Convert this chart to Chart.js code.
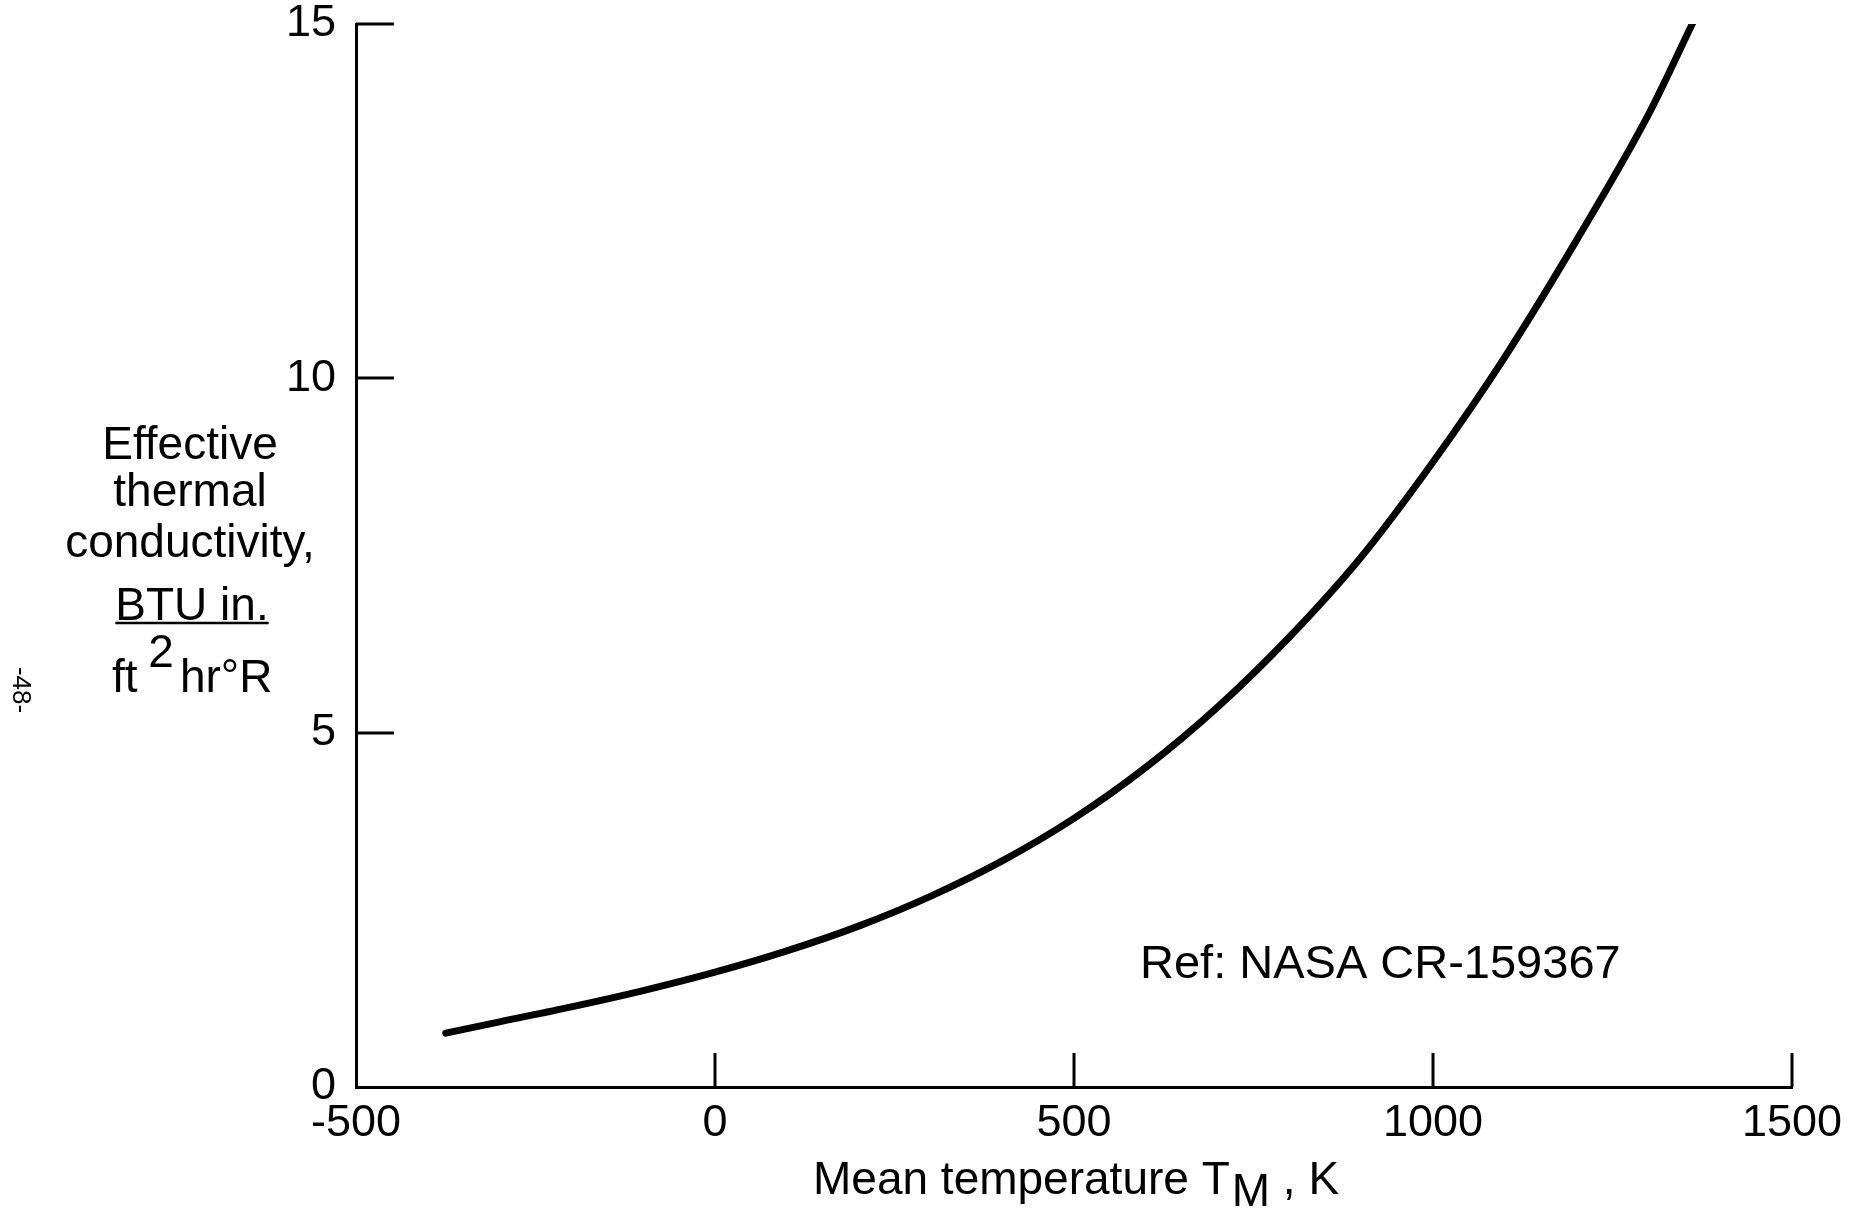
<!DOCTYPE html>
<html>
<head>
<meta charset="utf-8">
<script src="https://cdn.jsdelivr.net/npm/chart.js@4/dist/chart.umd.min.js"></script>
<style>
  html, body { margin: 0; padding: 0; background: #fff; }
  #wrap { position: relative; width: 1866px; height: 1210px; }
  canvas { display: block; }
</style>
</head>
<body>
<div id="wrap"><canvas id="c" width="1866" height="1210"></canvas></div>
<script>
// ---- data ----
const temperatures = [-375, -300, -200, -100, 0, 100, 200, 300, 400, 500, 600, 700, 800, 900, 1000, 1100, 1200, 1300, 1362];
const conductivity = [0.76, 0.92, 1.13, 1.36, 1.62, 1.92, 2.27, 2.69, 3.19, 3.79, 4.51, 5.36, 6.35, 7.48, 8.82, 10.3, 11.95, 13.72, 15.02];
const xTicks = [-500, 0, 500, 1000, 1500];
const yTicks = [0, 5, 10, 15];
const yLabelLines = ["Effective", "thermal", "conductivity,"];
const yUnitNumerator = "BTU in.";
const xTitleMain = "Mean temperature T";
const xTitleSub = "M";
const xTitleTail = " , K";
const refNote = "Ref: NASA CR-159367";
const pageMark = "-48-";

const FONT = '"Liberation Sans", Arial, Helvetica, sans-serif';

const points = temperatures.map((t, i) => ({ x: t, y: conductivity[i] }));

const decor = {
  id: 'decor',
  afterDraw(chart) {
    const ctx = chart.ctx;
    const xs = chart.scales.x, ys = chart.scales.y;
    const area = chart.chartArea;
    ctx.save();
    ctx.strokeStyle = '#000';
    ctx.lineWidth = 3;
    ctx.lineCap = 'butt';
    // inward ticks on x axis
    xTicks.forEach(v => {
      if (v === xs.min) return;
      const px = Math.round(xs.getPixelForValue(v));
      ctx.beginPath();
      ctx.moveTo(px, area.bottom);
      ctx.lineTo(px, area.bottom - 34);
      ctx.stroke();
    });
    // inward ticks on y axis
    yTicks.forEach(v => {
      if (v === ys.min) return;
      const py = Math.round(ys.getPixelForValue(v));
      ctx.beginPath();
      ctx.moveTo(area.left, py);
      ctx.lineTo(area.left + 38, py);
      ctx.stroke();
    });

    ctx.fillStyle = '#000';
    // y axis label block
    ctx.font = '46px ' + FONT;
    ctx.textAlign = 'center';
    ctx.textBaseline = 'alphabetic';
    const cx = 190;
    const baselines = [459, 506, 557];
    yLabelLines.forEach((s, i) => ctx.fillText(s, cx, baselines[i]));
    ctx.fillText(yUnitNumerator, cx + 2, 620);
    const w = ctx.measureText(yUnitNumerator).width;
    ctx.lineWidth = 2.5;
    ctx.beginPath();
    ctx.moveTo(cx + 2 - w / 2, 623);
    ctx.lineTo(cx + 2 + w / 2, 623);
    ctx.stroke();
    // ft ^2 hr°R
    ctx.textAlign = 'left';
    let x0 = 112;
    ctx.fillText('ft', x0, 692);
    x0 += ctx.measureText('ft ').width;
    ctx.fillText('2', x0 - 2, 667);
    x0 += ctx.measureText('2').width + 4;
    ctx.fillText('hr\u00B0R', x0, 692);

    // x axis title with subscript
    ctx.font = '46px ' + FONT;
    let xt = 813;
    ctx.fillText(xTitleMain, xt, 1194);
    xt += ctx.measureText(xTitleMain).width + 2;
    ctx.fillText(xTitleSub, xt, 1206);
    xt += ctx.measureText(xTitleSub).width;
    ctx.fillText(xTitleTail, xt, 1194);

    // reference note
    ctx.font = '47px ' + FONT;
    ctx.fillText(refNote, 1140, 978);

    // page mark, rotated
    ctx.save();
    ctx.translate(12, 690);
    ctx.rotate(Math.PI / 2);
    ctx.font = '26px ' + FONT;
    ctx.textAlign = 'center';
    ctx.textBaseline = 'middle';
    ctx.fillText(pageMark, 0, -8);
    ctx.restore();

    ctx.restore();
  }
};

new Chart(document.getElementById('c'), {
  type: 'scatter',
  data: {
    datasets: [{
      data: points,
      showLine: true,
      borderColor: '#000',
      borderWidth: 7,
      pointRadius: 0,
      pointHoverRadius: 0,
      cubicInterpolationMode: 'monotone',
      borderCapStyle: 'round',
      fill: false
    }]
  },
  options: {
    responsive: false,
    animation: false,
    devicePixelRatio: 1,
    layout: { padding: { top: 24, right: 74, left: 0, bottom: 0 } },
    plugins: { legend: { display: false }, tooltip: { enabled: false } },
    scales: {
      x: {
        type: 'linear',
        min: -500, max: 1500,
        afterBuildTicks: s => { s.ticks = xTicks.map(v => ({ value: v })); },
        grid: { drawOnChartArea: false, drawTicks: false },
        border: { display: true, color: '#000', width: 3 },
        ticks: { color: '#000', padding: 14, maxRotation: 0, callback: v => String(v), font: { family: FONT, size: 45, lineHeight: 1 } },
        afterFit: s => { s.height = 123; s.paddingLeft = 0; s.paddingRight = 0; }
      },
      y: {
        type: 'linear',
        min: 0, max: 15,
        afterBuildTicks: s => { s.ticks = yTicks.map(v => ({ value: v })); },
        grid: { drawOnChartArea: false, drawTicks: false },
        border: { display: true, color: '#000', width: 3 },
        ticks: { color: '#000', padding: 20, callback: v => String(v), font: { family: FONT, size: 45, lineHeight: 1 } },
        afterFit: s => { s.width = 356; s.paddingTop = 0; s.paddingBottom = 0; }
      }
    }
  },
  plugins: [decor]
});
</script>
</body>
</html>
